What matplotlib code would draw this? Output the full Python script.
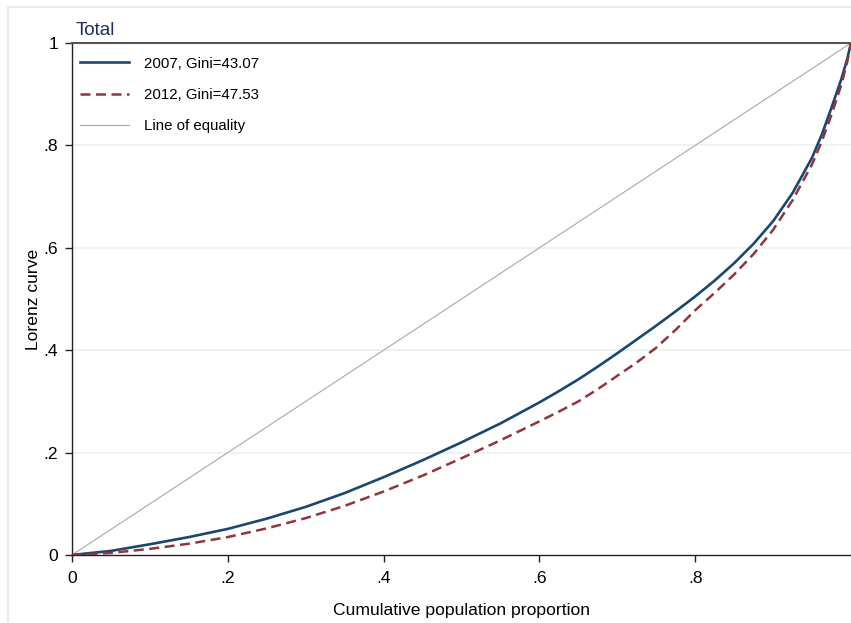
import matplotlib
matplotlib.use("Agg")
import matplotlib.pyplot as plt
from matplotlib.patches import Rectangle

plt.rcParams['font.family'] = ['Liberation Sans', 'DejaVu Sans']

# Data
pop_share = [0, .05, .1, .15, .2, .25, .3, .35, .4, .45, .5, .55, .6, .625,
             .65, .675, .7, .725, .75, .775, .8, .825, .85, .875, .9, .925,
             .95, .9625, .975, .9875, .995, 1]
lorenz_2007 = [0, .008, .021, .035, .051, .071, .094, .121, .152, .185, .220,
               .257, .298, .320, .343, .368, .394, .421, .448, .476, .505,
               .536, .570, .608, .652, .707, .776, .821, .874, .929, .968, 1]
lorenz_2012 = [0, .004, .012, .022, .035, .052, .072, .096, .124, .155, .189,
               .224, .261, .280, .300, .324, .350, .376, .405, .440, .478,
               .512, .548, .588, .635, .693, .763, .808, .860, .918, .962, 1]
equality = [0, 1]
labels = ["2007, Gini=43.07", "2012, Gini=47.53", "Line of equality"]
xticks = [0, .2, .4, .6, .8]
xticklabels = ["0", ".2", ".4", ".6", ".8"]
yticks = [0, .2, .4, .6, .8, 1]
yticklabels = ["0", ".2", ".4", ".6", ".8", "1"]

W, H = 851, 623
fig = plt.figure(figsize=(W / 100, H / 100), dpi=100)
fig.patch.set_facecolor('white')

# outer light frame
fig.patches.append(Rectangle((8 / W, -0.1), 1.2, 1 - 7 / H + 0.1,
                             transform=fig.transFigure, fill=False,
                             edgecolor='#E6EEF2', lw=1.5, zorder=0))

ax = fig.add_axes([72 / W, (H - 555) / H, 1 - 72 / W, (555 - 43) / H])
ax.set_xlim(0, 1)
ax.set_ylim(0, 1)

for y in [.2, .4, .6, .8]:
    ax.axhline(y, color='#EAF2F3', lw=1.3, zorder=1)

ax.plot(pop_share, lorenz_2007, color='#1A476F', lw=1.9, label=labels[0],
        zorder=3, solid_joinstyle='round')
ax.plot(pop_share, lorenz_2012, color='#90353B', lw=1.8, dashes=(4, 2.2),
        label=labels[1], zorder=4)
ax.plot(equality, equality, color='#A8A8A8', lw=0.8, label=labels[2], zorder=2)

ax.set_xticks(xticks)
ax.set_xticklabels(xticklabels)
ax.set_yticks(yticks)
ax.set_yticklabels(yticklabels)
ax.tick_params(axis='both', direction='out', length=5, width=1,
               labelsize=12.6, color='#222222', pad=5)
ax.tick_params(axis='x', pad=6.5)

for s in ['left', 'bottom']:
    ax.spines[s].set_color('#222222')
    ax.spines[s].set_linewidth(1.0)
ax.spines['top'].set_color('#555555')
ax.spines['top'].set_linewidth(1.5)
ax.spines['right'].set_visible(False)

ax.set_xlabel("Cumulative population proportion", fontsize=12.6, labelpad=12)
ax.set_ylabel("Lorenz curve", fontsize=12.6, labelpad=1.5)

fig.text(76 / W, 1 - 35 / H, "Total", fontsize=13.6, color='#1E2F5E',
         ha='left', va='baseline')

leg = ax.legend(loc='upper left', bbox_to_anchor=(2 / 780, 1 - 7.5 / 512),
                frameon=False, fontsize=10.8, handlelength=3.3,
                handletextpad=1.0, labelspacing=1.15, borderaxespad=0.0,
                borderpad=0.4)

fig.savefig("out.png", dpi=100, facecolor='white')
